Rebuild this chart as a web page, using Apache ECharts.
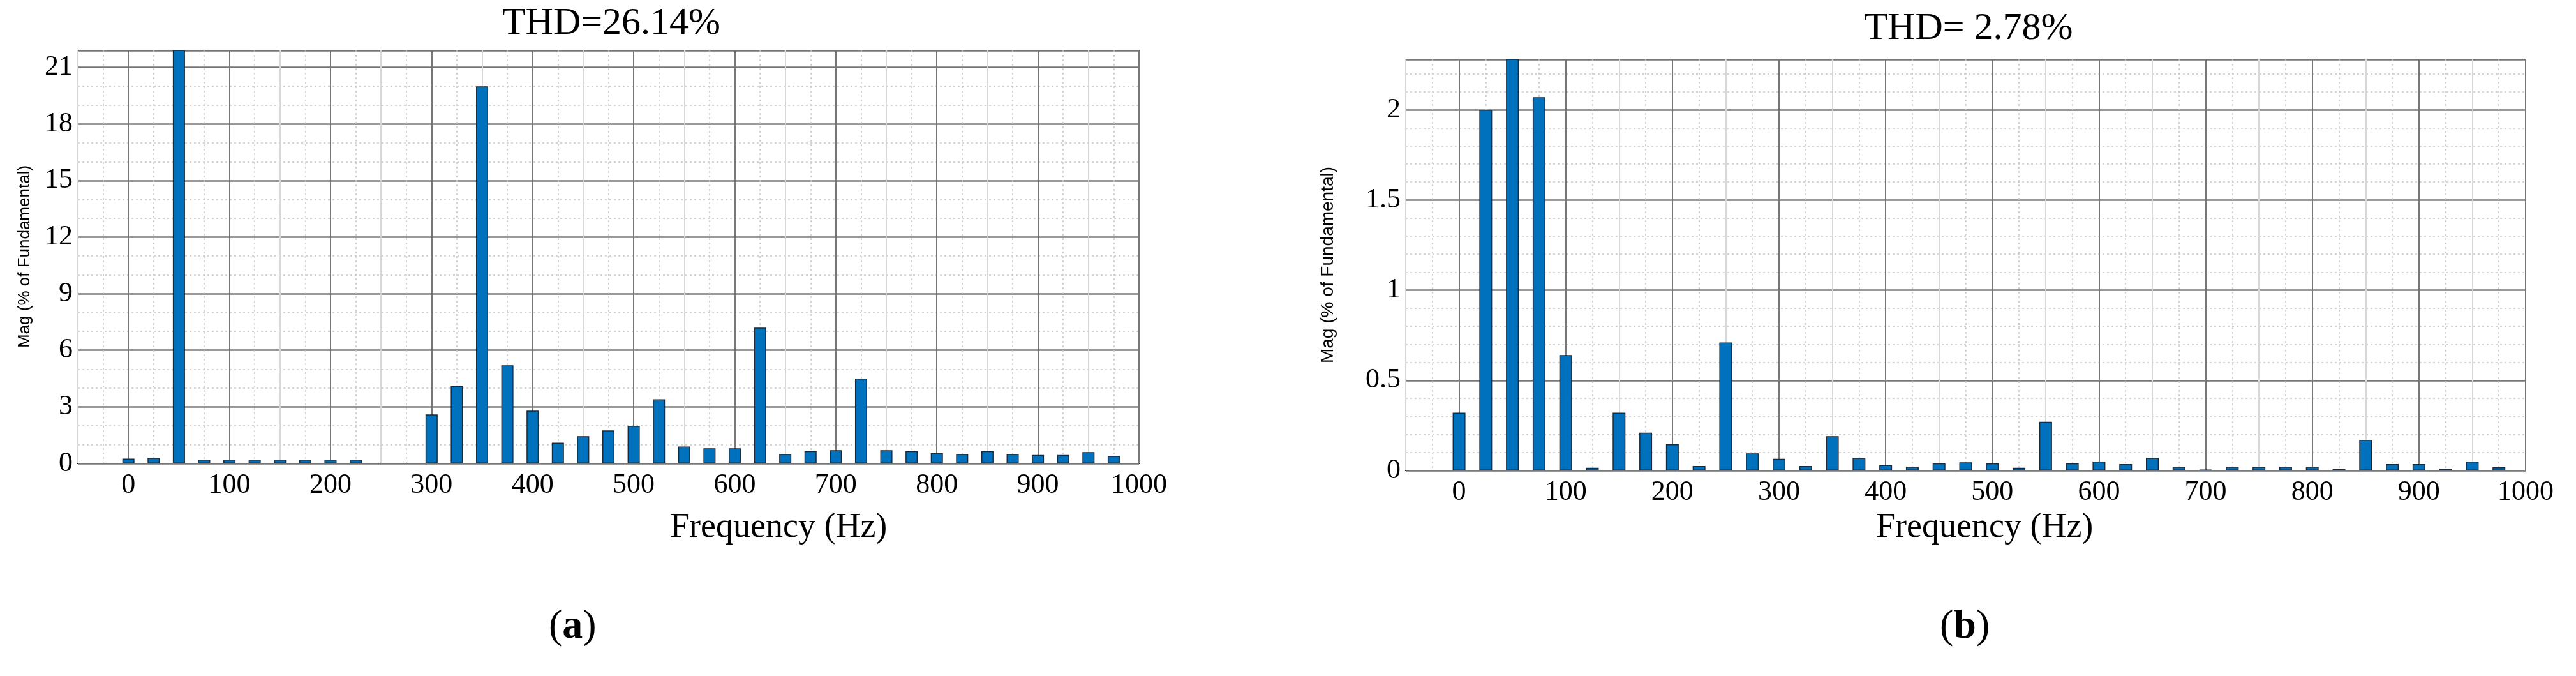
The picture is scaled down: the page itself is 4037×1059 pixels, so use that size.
<!DOCTYPE html>
<html><head><meta charset="utf-8">
<script src="https://cdn.jsdelivr.net/npm/echarts@6/dist/echarts.min.js"></script>
<style>html,body{margin:0;background:#fff}#c{width:4037px;height:1059px}</style>
</head><body><div id="c"></div>
<script>
const freqA = [0,25,50,75,100,125,150,175,200,225,300,325,350,375,400,425,450,475,500,525,550,575,600,625,650,675,700,725,750,775,800,825,850,875,900,925,950,975];
const magA  = [0.25,0.3,100,0.2,0.2,0.2,0.2,0.2,0.2,0.2,2.6,4.1,20,5.2,2.8,1.1,1.45,1.75,2.0,3.4,0.9,0.8,0.8,7.2,0.5,0.65,0.7,4.5,0.7,0.65,0.55,0.5,0.65,0.5,0.45,0.45,0.6,0.4];
const freqB = [0,25,50,75,100,125,150,175,200,225,250,275,300,325,350,375,400,425,450,475,500,525,550,575,600,625,650,675,700,725,750,775,800,825,850,875,900,925,950,975];
const magB  = [0.32,2.0,100,2.07,0.64,0.015,0.32,0.21,0.145,0.025,0.71,0.095,0.065,0.025,0.19,0.07,0.03,0.02,0.04,0.045,0.04,0.015,0.27,0.04,0.05,0.035,0.07,0.02,0.005,0.02,0.02,0.02,0.02,0.008,0.17,0.035,0.035,0.01,0.05,0.018];
const titles = ['THD=26.14%','THD= 2.78%'];
const xName = 'Frequency (Hz)';
const yName = 'Mag (% of Fundamental)';

const serif = '"Liberation Serif","DejaVu Serif",serif';
function xAxis(i){return {gridIndex:i,type:'value',min:-50,max:1000,interval:50,
  axisLine:{show:false},axisTick:{show:false},
  axisLabel:{fontFamily:serif,fontSize:44,color:'#000',margin:12,formatter:v=>(v%100===0&&v>=0)?String(v):''},
  splitLine:{show:true,lineStyle:{color:['#d8d8d8','#777'],width:2}},
  minorTick:{show:false,splitNumber:2},
  minorSplitLine:{show:true,lineStyle:{color:'#c8c8c8',type:[3,4],width:1.5}}};}
function yAxis(i,max,interval,minor){return {gridIndex:i,type:'value',min:0,max:max,interval:interval,
  axisLine:{show:false},axisTick:{show:false},
  axisLabel:{fontFamily:serif,fontSize:44,color:'#000',margin:8,showMaxLabel:false},
  splitLine:{show:true,lineStyle:{color:'#777',width:2.5}},
  minorTick:{show:false,splitNumber:minor},
  minorSplitLine:{show:true,lineStyle:{color:'#c8c8c8',type:[3,4],width:1.5}}};}
const barStyle={color:'#0072BD',borderColor:'#1a2a3a',borderWidth:1.5};
const chart=echarts.init(document.getElementById('c'));
chart.setOption({
  animation:false,
  title:[
    {text:titles[0],left:953,top:2,textAlign:'center',textStyle:{fontFamily:serif,fontSize:60,fontWeight:'normal',color:'#000'}},
    {text:titles[1],left:3080,top:10,textAlign:'center',textStyle:{fontFamily:serif,fontSize:60,fontWeight:'normal',color:'#000'}}
  ],
  grid:[
    {left:122,top:79,width:1663,height:647,show:true,borderColor:'#222',borderWidth:2,backgroundColor:'#fff'},
    {left:2203,top:93,width:1755,height:644,show:true,borderColor:'#222',borderWidth:2,backgroundColor:'#fff'}
  ],
  xAxis:[xAxis(0),xAxis(1)],
  yAxis:[yAxis(0,21.9,3,3),yAxis(1,2.28,0.5,5)],
  series:[
    {type:'bar',xAxisIndex:0,yAxisIndex:0,barWidth:19,clip:true,itemStyle:barStyle,data:freqA.map((f,i)=>[f,magA[i]])},
    {type:'bar',xAxisIndex:1,yAxisIndex:1,barWidth:20,clip:true,itemStyle:barStyle,data:freqB.map((f,i)=>[f,magB[i]])}
  ],
  graphic:[
    {type:'text',left:1050,top:800,style:{text:xName,font:'54px '+serif,fill:'#000'}},
    {type:'text',left:2940,top:800,style:{text:xName,font:'54px '+serif,fill:'#000'}},
    {type:'text',x:39,y:402,rotation:Math.PI/2,style:{text:yName,font:'26px "Liberation Sans",Arial,sans-serif',fill:'#000',textAlign:'center',textVerticalAlign:'middle'}},
    {type:'text',x:2081,y:415,rotation:Math.PI/2,style:{text:yName,font:'28px "Liberation Sans",Arial,sans-serif',fill:'#000',textAlign:'center',textVerticalAlign:'middle'}},
    {type:'text',left:860,top:950,style:{rich:{p:{font:'64px '+serif,fill:'#000'},b:{font:'bold 64px '+serif,fill:'#000'}},text:'{p|(}{b|a}{p|)}'}},
    {type:'text',left:3040,top:950,style:{rich:{p:{font:'64px '+serif,fill:'#000'},b:{font:'bold 64px '+serif,fill:'#000'}},text:'{p|(}{b|b}{p|)}'}}
  ]
});
</script></body></html>
